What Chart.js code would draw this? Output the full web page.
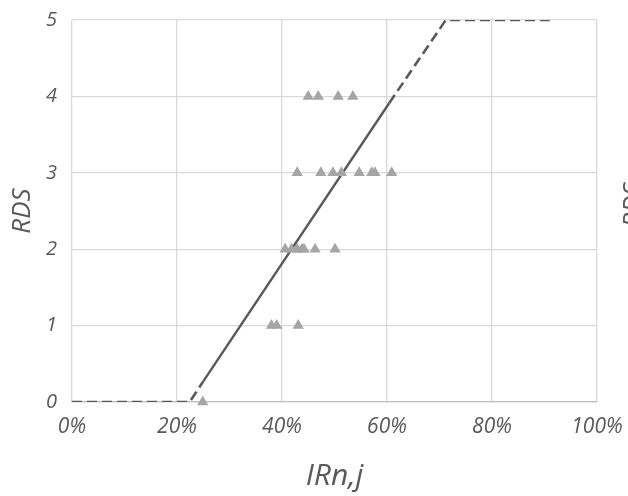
<!DOCTYPE html>
<html>
<head>
<meta charset="utf-8">
<script src="https://cdn.jsdelivr.net/npm/chart.js@4"></script>
<style>
  html, body { margin: 0; padding: 0; background: #fff; }
  #wrap { width: 628px; height: 496px; }
</style>
</head>
<body>
<div id="wrap"><canvas id="chart" width="628" height="496"></canvas></div>
<script>
// observed cases, IRn,j in % against RDS level
const obsX = [24.9,
    38.0, 39.0, 43.1,
    40.6, 41.8, 42.9, 43.8, 44.2, 46.3, 50.1,
    42.9, 47.4, 49.7, 51.3, 54.7, 57.1, 57.7, 60.9,
    45.0, 46.9, 50.7, 53.5];
const obsY = [0,
    1, 1, 1,
    2, 2, 2, 2, 2, 2, 2,
    3, 3, 3, 3, 3, 3, 3, 3,
    4, 4, 4, 4];

// fitted line (solid inside the data range)
const fitX = [25.0, 60.4];
const fitY = [0.27, 3.91];

// extrapolated parts (dashed), null splits the two pieces
const extX = [0, 22.4, 25.0, null, 60.4, 71.2, 91.0];
const extY = [0, 0, 0.27, null, 3.91, 5, 5];

const xTicks = [0, 20, 40, 60, 80, 100];

const toPts = (xs, ys) => xs.map((x, i) => x === null ? { x: null, y: null } : { x, y: ys[i] });

// the neighbouring chart's axis title, cut off at the right edge
const edgeLabel = {
    id: 'edgeLabel',
    afterDraw(chart) {
        const ctx = chart.ctx;
        ctx.save();
        ctx.translate(634, 205);
        ctx.rotate(-Math.PI / 2);
        ctx.font = 'italic 26px "Open Sans"';
        ctx.fillStyle = '#595959';
        ctx.textAlign = 'center';
        ctx.textBaseline = 'middle';
        ctx.fillText('RDS', 0, 0);
        ctx.restore();
    }
};

new Chart(document.getElementById('chart'), {
    type: 'scatter',
    data: {
        datasets: [
            {
                data: toPts(extX, extY),
                showLine: true,
                spanGaps: false,
                borderColor: '#595959',
                borderWidth: 2.6,
                borderDash: [10, 5],
                pointRadius: 0,
                order: 2
            },
            {
                data: toPts(fitX, fitY),
                showLine: true,
                borderColor: '#595959',
                borderWidth: 2.4,
                pointRadius: 0,
                order: 1
            },
            {
                data: toPts(obsX, obsY),
                pointStyle: 'triangle',
                pointRadius: 6.5,
                backgroundColor: '#a5a5a5',
                borderColor: '#a5a5a5',
                borderWidth: 0,
                clip: false,
                order: 0
            }
        ]
    },
    options: {
        responsive: false,
        animation: false,
        layout: { padding: { left: 0, right: 31, top: 20, bottom: 0 } },
        plugins: {
            legend: { display: false },
            tooltip: { enabled: false }
        },
        scales: {
            x: {
                type: 'linear',
                min: 0,
                max: 100,
                afterBuildTicks: axis => { axis.ticks = xTicks.map(v => ({ value: v })); },
                afterFit: axis => {
                    axis.height = 94;
                    axis.paddingLeft = 0;
                    axis.paddingRight = 0;
                },
                ticks: {
                    callback: v => v + '%',
                    color: '#595959',
                    font: { family: '"Open Sans"', size: 21, style: 'italic' },
                    padding: 12,
                    maxRotation: 0
                },
                grid: { color: '#d9d9d9', lineWidth: 1.3, drawTicks: false },
                border: { color: '#bfbfbf', width: 1.3 },
                title: {
                    display: true,
                    text: 'IRn,j',
                    color: '#595959',
                    font: { family: '"Open Sans"', size: 30, style: 'italic' },
                    padding: { top: 0, bottom: 2 }
                }
            },
            y: {
                min: 0,
                max: 5,
                afterFit: axis => {
                    axis.width = 72;
                    axis.paddingTop = 0;
                    axis.paddingBottom = 0;
                },
                ticks: {
                    stepSize: 1,
                    color: '#595959',
                    font: { family: '"Open Sans"', size: 20, style: 'italic' },
                    padding: 15
                },
                grid: { color: '#d9d9d9', lineWidth: 1.3, drawTicks: false },
                border: { display: false },
                title: {
                    display: true,
                    text: 'RDS',
                    color: '#595959',
                    font: { family: '"Open Sans"', size: 26, style: 'italic' },
                    padding: { top: 7, bottom: 0 }
                }
            }
        }
    },
    plugins: [edgeLabel]
});
</script>
</body>
</html>
